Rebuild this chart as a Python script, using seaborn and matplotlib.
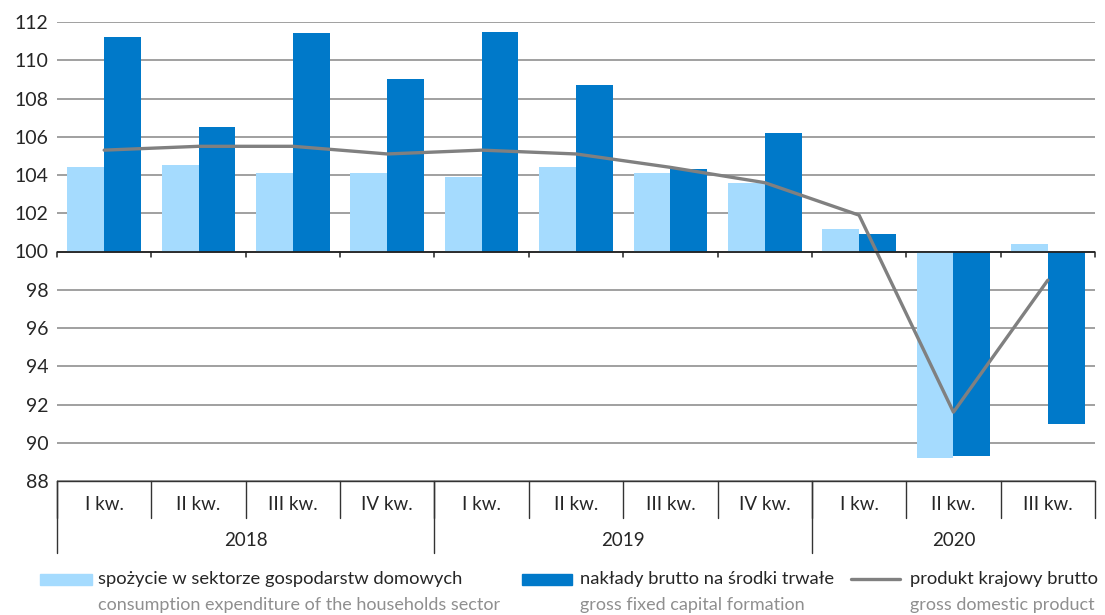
import numpy as np
import pandas as pd
import seaborn as sns
import matplotlib.pyplot as plt
from matplotlib.ticker import FuncFormatter
from matplotlib.patches import Rectangle
from matplotlib.lines import Line2D
import matplotlib.transforms as mtransforms

quarters = ["I kw.", "II kw.", "III kw.", "IV kw.",
            "I kw.", "II kw.", "III kw.", "IV kw.",
            "I kw.", "II kw.", "III kw."]
years = ["2018", "2019", "2020"]
year_sizes = [4, 4, 3]

consumption = [104.4, 104.5, 104.1, 104.1, 103.9, 104.4, 104.1, 103.6, 101.2, 89.2, 100.4]
investment = [111.2, 106.5, 111.4, 109.0, 111.5, 108.7, 104.3, 106.2, 100.9, 89.3, 91.0]
gdp = [105.3, 105.5, 105.5, 105.1, 105.3, 105.1, 104.4, 103.6, 101.9, 91.6, 98.5]

labels_pl = ["spożycie w sektorze gospodarstw domowych",
             "nakłady brutto na środki trwałe",
             "produkt krajowy brutto"]
labels_en = ["consumption expenditure of the households sector",
             "gross fixed capital formation",
             "gross domestic product"]

c_light = "#A5DBFE"
c_dark = "#0079C9"
c_line = "#808080"
c_en = "#8F8F8F"

sns.set_style("white")
plt.rcParams["font.family"] = ["Lato", "DejaVu Sans"]

n = len(quarters)
pos = list(range(n))
df = pd.DataFrame({
    "pos": pos * 2,
    "value": [v - 100 for v in consumption] + [v - 100 for v in investment],
    "series": ["cons"] * n + ["inv"] * n,
})

fig = plt.figure(figsize=(11.05, 6.15), dpi=100)
ax = fig.add_axes([57 / 1105, 1 - 481 / 615, (1095 - 57) / 1105, (481 - 22) / 615])

sns.barplot(data=df, x="pos", y="value", hue="series", order=pos,
            palette={"cons": c_light, "inv": c_dark}, width=0.78, gap=0,
            saturation=1, legend=False, ax=ax, zorder=3, linewidth=0)
sns.lineplot(x=pos, y=[v - 100 for v in gdp], color=c_line, lw=2.4, ax=ax, zorder=4)

ax.set_xlim(-0.5, n - 0.5)
ax.set_ylim(-12, 12)
ax.set_yticks(np.arange(-12, 13, 2))
ax.yaxis.set_major_formatter(FuncFormatter(lambda v, p: f"{v + 100:.0f}"))
ax.tick_params(axis="y", length=0, labelsize=14, pad=6)
ax.set_xticks([])
ax.set_xlabel("")
ax.set_ylabel("")
for s in ["left", "right", "top"]:
    ax.spines[s].set_visible(False)
ax.spines["bottom"].set_color("#333333")
ax.spines["bottom"].set_linewidth(1.0)
ax.yaxis.grid(True, color="#A0A0A0", lw=1.4, zorder=0)
ax.set_axisbelow(True)
ax.axhline(0, color="#222222", lw=1.3, zorder=5)

# tick marks on the baseline
for b in np.arange(-0.5, n, 1.0):
    ax.plot([b, b], [0, -0.28], color="#222222", lw=1.1, zorder=5, clip_on=False)

# category table under the axis
tr = mtransforms.blended_transform_factory(ax.transData, fig.transFigure)
def fy(px):
    return 1 - px / 615

for b in np.arange(-0.5, n, 1.0):
    ax.plot([b, b], [fy(481), fy(518)], color="#333333", lw=1.0, transform=tr, clip_on=False)
for i, q in enumerate(quarters):
    ax.text(i, fy(504), q, ha="center", va="center", fontsize=13.5, transform=tr)
start = -0.5
for y, k in zip(years, year_sizes):
    ax.plot([start, start], [fy(481), fy(553)], color="#333333", lw=1.0, transform=tr, clip_on=False)
    ax.text(start + k / 2, fy(540), y, ha="center", va="center", fontsize=13.5, transform=tr)
    start += k

# legend
def fx(px):
    return px / 1105

fig.patches.append(Rectangle((fx(40), fy(585)), fx(52), 11 / 615, color=c_light, transform=fig.transFigure))
fig.patches.append(Rectangle((fx(522), fy(585)), fx(50), 11 / 615, color=c_dark, transform=fig.transFigure))
fig.lines.append(Line2D([fx(851), fx(900)], [fy(579), fy(579)], color=c_line, lw=2.4, transform=fig.transFigure))
for x0, pl, en in zip([98, 580, 910], labels_pl, labels_en):
    fig.text(fx(x0), fy(579), pl, ha="left", va="center", fontsize=13.2)
    fig.text(fx(x0), fy(605), en, ha="left", va="center", fontsize=13.0, color=c_en)

fig.savefig("out.png", dpi=100)
